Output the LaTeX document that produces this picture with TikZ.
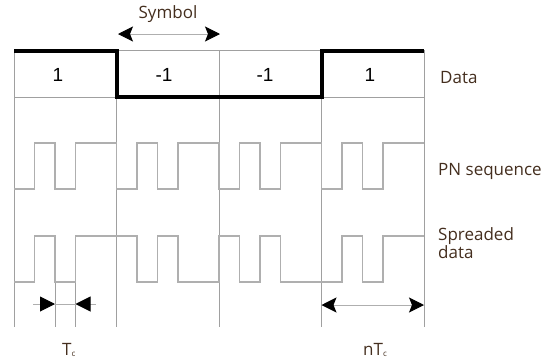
\documentclass[tikz,border=0pt]{standalone}
\usepackage{fontspec}
\setmainfont{Open Sans}
\newfontfamily\digitfont{Liberation Sans}
\usetikzlibrary{arrows.meta}
\definecolor{gridgray}{RGB}{160,160,160}
\definecolor{wavegray}{RGB}{175,175,175}
\definecolor{labelbrown}{RGB}{68,46,30}
\tikzset{
  gridline/.style={draw=gridgray, line width=1pt},
  waveline/.style={draw=wavegray, line width=1.1pt},
  dataline/.style={draw=black, line width=4pt, line join=miter},
  dimline/.style={draw=wavegray, line width=1pt},
  bigtip/.style={-{Stealth[length=15pt,width=15pt,inset=3pt,color=black]}},
  tritip/.style={-{Triangle[length=15pt,width=15pt,color=black]}},
  lbl/.style={font=\fontsize{17}{18}\selectfont, text=labelbrown, inner sep=0pt},
  dig/.style={font=\digitfont\fontsize{19}{20}\selectfont, text=black, inner sep=0pt}
}
\begin{document}
\begin{tikzpicture}[x=1pt,y=-1pt]
\useasboundingbox (0,0) rectangle (555,362);
% grid
\foreach \x in {14,116.5,219,321.5,424} { \draw[gridline] (\x,50) -- (\x,327); }
\draw[gridline] (14,50) -- (424,50);
\draw[gridline] (14,97) -- (424,97);
\draw[gridline] (55,282) -- (55,327);
\draw[gridline] (75.5,282) -- (75.5,327);
% PN sequence
\draw[waveline] (14,189) \foreach \l [count=\i from 0] in {189,143,189,143,143,189,143,189,143,143,189,143,189,143,143,189,143,189,143,143} { -- (14+20.5*\i,\l) -- (34.5+20.5*\i,\l) };
% spreaded data
\draw[waveline] (14,282) \foreach \l [count=\i from 0] in {282,236,282,236,236,236,282,236,282,282,236,282,236,282,282,282,236,282,236,236} { -- (14+20.5*\i,\l) -- (34.5+20.5*\i,\l) };
% data waveform
\draw[dataline] (14,51) -- (116.5,51) -- (116.5,97) -- (321.5,97) -- (321.5,51) -- (424,51);
% data values
\node[dig] (d1) at (58,75) {1};
\node[dig] (d2) at (164,75) {-1};
\node[dig] (d3) at (265,75) {-1};
\node[dig] (d4) at (370,75) {1};
% labels
\node[lbl, anchor=base] (sym) at (168,18) {Symbol};
\node[lbl, anchor=base west] (data) at (440,83) {Data};
\node[lbl, anchor=base west] (pn) at (438,175) {PN sequence};
\node[lbl, anchor=base west, align=left] (spr) at (438,258) {Spreaded\\data};
\node[lbl, anchor=base west] (tc) at (62,355) {T\raisebox{-1pt}{\fontsize{8}{8}\selectfont c}};
\node[lbl, anchor=base west] (ntc) at (363,355) {nT\raisebox{-1pt}{\fontsize{8}{8}\selectfont c}};
% symbol arrow
\coordinate (sa) at (118,34);
\coordinate (sb) at (220,34);
\coordinate (sm) at (169,34);
\draw[dimline, bigtip] (sm) -- (sa);
\draw[dimline, bigtip] (sm) -- (sb);
% nTc arrow
\coordinate (na) at (321.5,305);
\coordinate (nb) at (424,305);
\coordinate (nm) at (372.75,305);
\draw[dimline, bigtip] (nm) -- (na);
\draw[dimline, bigtip] (nm) -- (nb);
% Tc arrows
\coordinate (ta0) at (33,304);
\coordinate (ta) at (55,304);
\coordinate (tb) at (75.5,304);
\coordinate (tb0) at (96,304);
\draw[dimline, tritip] (ta0) -- (ta);
\draw[dimline, tritip] (tb0) -- (tb);
\draw[dimline] (ta) -- (tb);
\end{tikzpicture}
\end{document}
